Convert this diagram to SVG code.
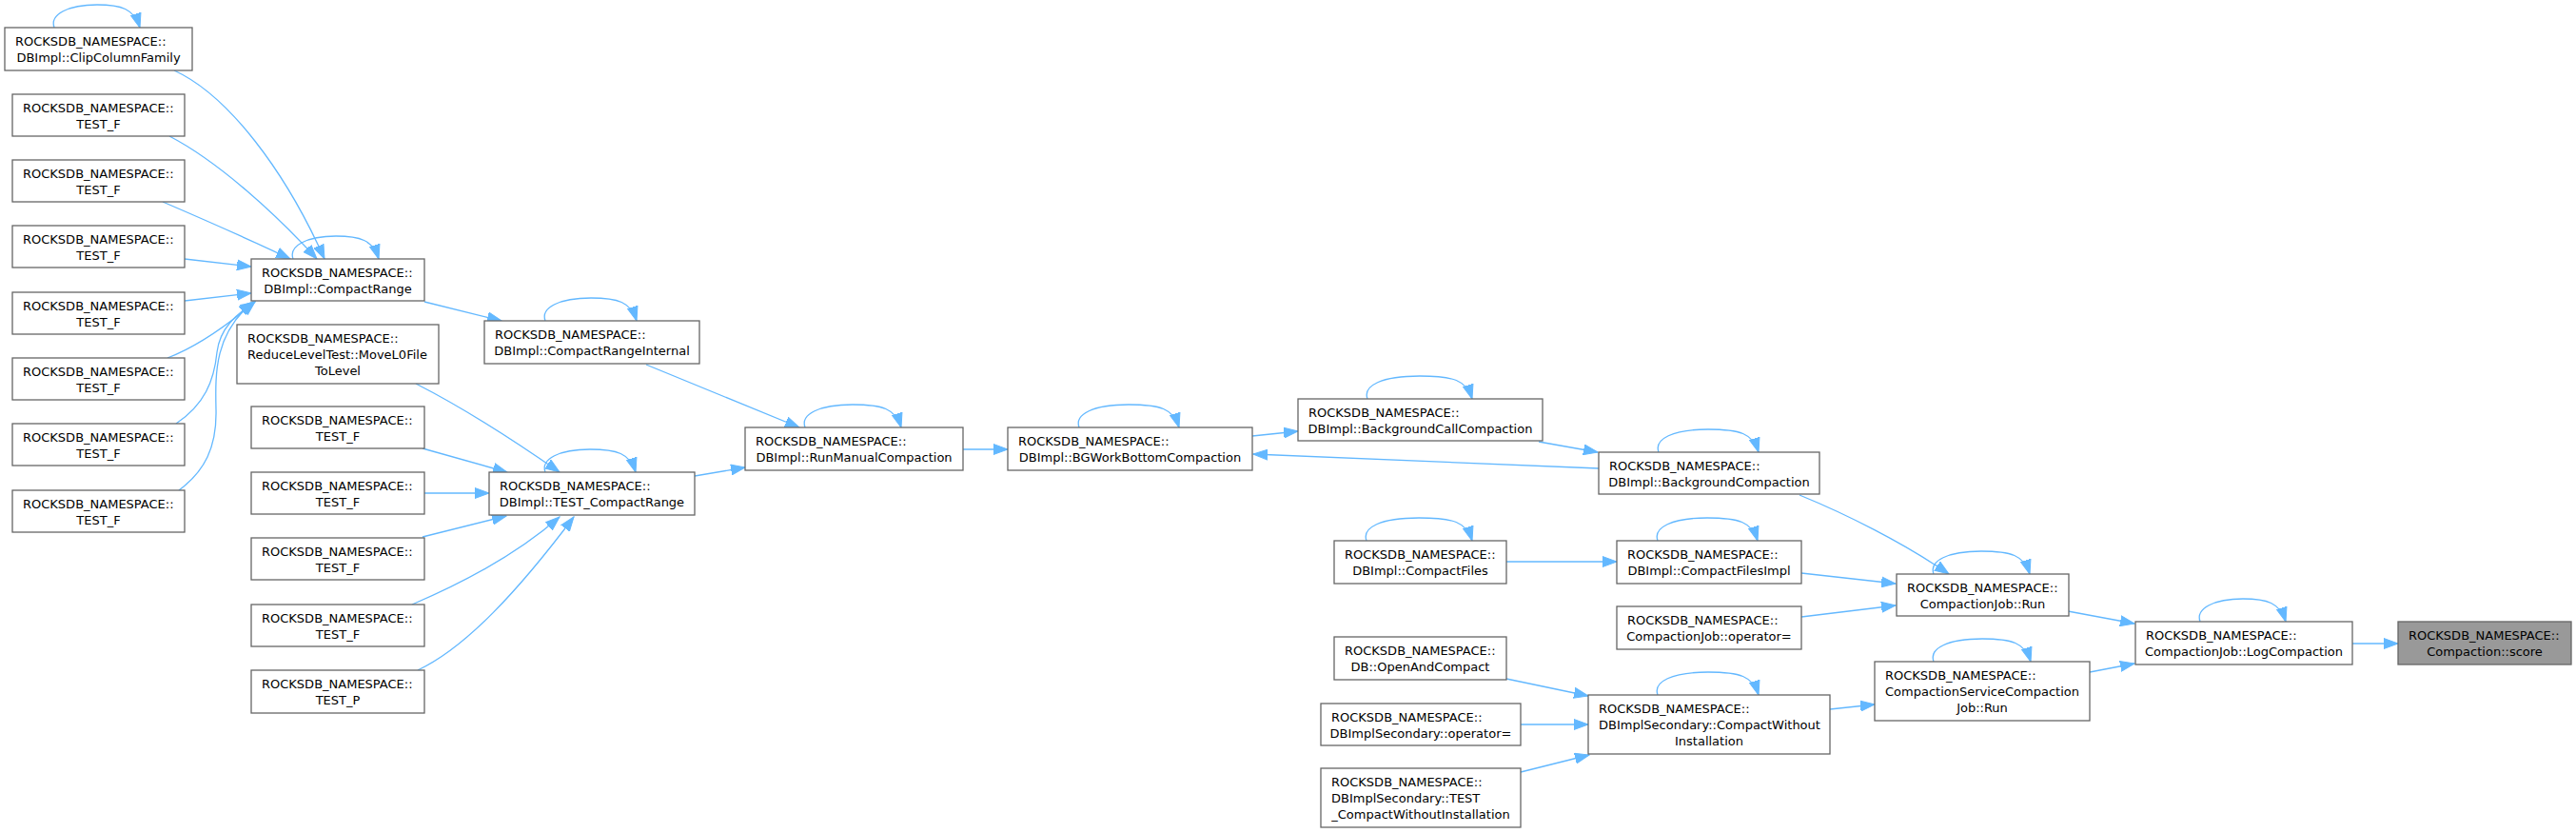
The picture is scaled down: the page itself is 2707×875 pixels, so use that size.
<svg xmlns="http://www.w3.org/2000/svg" width="2707" height="875" viewBox="0 0 2707 875">
<style>
.node rect{fill:#ffffff;stroke:#666666;stroke-width:1.3}
.node.hl rect{fill:#999999}
.node text{font-family:"DejaVu Sans","Liberation Sans",sans-serif;font-size:13px;fill:#000000}
.node text.m{text-anchor:middle}
.edges path{fill:none;stroke:#63b8ff;stroke-width:1.3;marker-end:url(#ah)}
</style>
<defs>
<marker id="ah" markerUnits="userSpaceOnUse" markerWidth="16" markerHeight="12" refX="15" refY="6" orient="auto">
<path d="M0,0.5 L15,6 L0,11.5 Z" fill="#63b8ff" stroke="#63b8ff" stroke-width="1"/>
</marker>
</defs>
<rect x="0" y="0" width="2707" height="875" fill="#ffffff"/>
<g class="edges" id="connectors">
<path d="M57,29 C52,15 72,5 102,5 C127,5 141,9 147,29"/>
<path d="M183,74 C240,100 300,180 341,272"/>
<path d="M178,143 C230,170 290,225 333,272"/>
<path d="M171,212 C220,233 265,253 305,272"/>
<path d="M194,272 L264,280"/>
<path d="M194,316 L264,308"/>
<path d="M176,376 C205,365 235,345 268,317"/>
<path d="M185,445 C215,425 225,400 228,370 C231,345 248,330 268,317"/>
<path d="M188,515 C215,495 228,470 227,430 C226,390 226,350 266,317"/>
<path d="M308,272 C303,258 323,248 353,248 C378,248 392,252 398,272"/>
<path d="M446,317 L527,337"/>
<path d="M573,337 C568,323 588,313 621,313 C649,313 663,317 669,337"/>
<path d="M679,383 L840,449"/>
<path d="M437,403 C490,430 545,466 588,496"/>
<path d="M444,471 L533,496"/>
<path d="M446,518 L514,518"/>
<path d="M444,564 L532,542"/>
<path d="M433,635 C480,615 540,585 588,543"/>
<path d="M439,704 C490,680 545,620 603,543"/>
<path d="M573,496 C568,482 588,472 620,472 C648,472 662,476 668,496"/>
<path d="M730,500 L783,491"/>
<path d="M846,449 C841,435 861,425 896,425 C927,425 941,429 947,449"/>
<path d="M1012,472 L1059,472"/>
<path d="M1134,449 C1129,435 1149,425 1186,425 C1219,425 1233,429 1239,449"/>
<path d="M1316,458 L1364,453"/>
<path d="M1680,492 L1317,477"/>
<path d="M1437,419 C1432,405 1452,395 1492,395 C1527,395 1541,399 1547,419"/>
<path d="M1617,464 L1679,475"/>
<path d="M1743,475 C1738,461 1758,451 1795,451 C1828,451 1842,455 1848,475"/>
<path d="M1891,520 C1940,540 2000,570 2048,603"/>
<path d="M2032,603 C2027,589 2047,579 2082,579 C2113,579 2127,583 2133,603"/>
<path d="M1893,602 L1992,613"/>
<path d="M1893,648 L1992,636"/>
<path d="M1583,590 L1699,590"/>
<path d="M1436,568 C1431,554 1451,544 1491,544 C1527,544 1541,548 1547,568"/>
<path d="M1742,568 C1737,554 1757,544 1794,544 C1827,544 1841,548 1847,568"/>
<path d="M1583,713 L1669,731"/>
<path d="M1598,761 L1669,761"/>
<path d="M1598,811 L1670,793"/>
<path d="M1742,730 C1737,716 1757,706 1795,706 C1828,706 1842,710 1848,730"/>
<path d="M1923,745 L1970,740"/>
<path d="M2032,695 C2027,681 2047,671 2083,671 C2114,671 2128,675 2134,695"/>
<path d="M2173,642 L2243,655"/>
<path d="M2196,706 L2243,697"/>
<path d="M2312,653 C2307,639 2327,629 2357,629 C2382,629 2396,633 2402,653"/>
<path d="M2472,676 L2520,676"/>
</g>
<g class="node" id="n_clip"><rect x="5" y="29" width="197" height="45"/><text x="16" y="47.5">ROCKSDB_NAMESPACE::</text><text class="m" x="103.5" y="64.5">DBImpl::ClipColumnFamily</text></g>
<g class="node" id="n_t0a"><rect x="13" y="99" width="181" height="44"/><text x="24" y="117.5">ROCKSDB_NAMESPACE::</text><text class="m" x="103.5" y="134.5">TEST_F</text></g>
<g class="node" id="n_t0b"><rect x="13" y="168" width="181" height="44"/><text x="24" y="186.5">ROCKSDB_NAMESPACE::</text><text class="m" x="103.5" y="203.5">TEST_F</text></g>
<g class="node" id="n_t0c"><rect x="13" y="237" width="181" height="44"/><text x="24" y="255.5">ROCKSDB_NAMESPACE::</text><text class="m" x="103.5" y="272.5">TEST_F</text></g>
<g class="node" id="n_t0d"><rect x="13" y="307" width="181" height="44"/><text x="24" y="325.5">ROCKSDB_NAMESPACE::</text><text class="m" x="103.5" y="342.5">TEST_F</text></g>
<g class="node" id="n_t0e"><rect x="13" y="376" width="181" height="44"/><text x="24" y="394.5">ROCKSDB_NAMESPACE::</text><text class="m" x="103.5" y="411.5">TEST_F</text></g>
<g class="node" id="n_t0f"><rect x="13" y="445" width="181" height="44"/><text x="24" y="463.5">ROCKSDB_NAMESPACE::</text><text class="m" x="103.5" y="480.5">TEST_F</text></g>
<g class="node" id="n_t0g"><rect x="13" y="515" width="181" height="44"/><text x="24" y="533.5">ROCKSDB_NAMESPACE::</text><text class="m" x="103.5" y="550.5">TEST_F</text></g>
<g class="node" id="n_compactrange"><rect x="264" y="272" width="182" height="44"/><text x="275" y="290.5">ROCKSDB_NAMESPACE::</text><text class="m" x="355" y="307.5">DBImpl::CompactRange</text></g>
<g class="node" id="n_reducelevel"><rect x="249" y="341" width="212" height="62"/><text x="260" y="359.5">ROCKSDB_NAMESPACE::</text><text x="260" y="376.5">ReduceLevelTest::MoveL0File</text><text class="m" x="355" y="393.5">ToLevel</text></g>
<g class="node" id="n_t1a"><rect x="264" y="427" width="182" height="44"/><text x="275" y="445.5">ROCKSDB_NAMESPACE::</text><text class="m" x="355" y="462.5">TEST_F</text></g>
<g class="node" id="n_t1b"><rect x="264" y="496" width="182" height="44"/><text x="275" y="514.5">ROCKSDB_NAMESPACE::</text><text class="m" x="355" y="531.5">TEST_F</text></g>
<g class="node" id="n_t1c"><rect x="264" y="565" width="182" height="44"/><text x="275" y="583.5">ROCKSDB_NAMESPACE::</text><text class="m" x="355" y="600.5">TEST_F</text></g>
<g class="node" id="n_t1d"><rect x="264" y="635" width="182" height="44"/><text x="275" y="653.5">ROCKSDB_NAMESPACE::</text><text class="m" x="355" y="670.5">TEST_F</text></g>
<g class="node" id="n_t1p"><rect x="264" y="704" width="182" height="45"/><text x="275" y="722.5">ROCKSDB_NAMESPACE::</text><text class="m" x="355" y="739.5">TEST_P</text></g>
<g class="node" id="n_cri"><rect x="509" y="337" width="226" height="45"/><text x="520" y="355.5">ROCKSDB_NAMESPACE::</text><text class="m" x="622" y="372.5">DBImpl::CompactRangeInternal</text></g>
<g class="node" id="n_tcr"><rect x="514" y="496" width="216" height="45"/><text x="525" y="514.5">ROCKSDB_NAMESPACE::</text><text class="m" x="622" y="531.5">DBImpl::TEST_CompactRange</text></g>
<g class="node" id="n_rmc"><rect x="783" y="449" width="229" height="45"/><text x="794" y="467.5">ROCKSDB_NAMESPACE::</text><text class="m" x="897.5" y="484.5">DBImpl::RunManualCompaction</text></g>
<g class="node" id="n_bgwork"><rect x="1059" y="449" width="257" height="45"/><text x="1070" y="467.5">ROCKSDB_NAMESPACE::</text><text class="m" x="1187.5" y="484.5">DBImpl::BGWorkBottomCompaction</text></g>
<g class="node" id="n_bcc"><rect x="1364" y="419" width="257" height="44"/><text x="1375" y="437.5">ROCKSDB_NAMESPACE::</text><text class="m" x="1492.5" y="454.5">DBImpl::BackgroundCallCompaction</text></g>
<g class="node" id="n_bc"><rect x="1680" y="475" width="232" height="44"/><text x="1691" y="493.5">ROCKSDB_NAMESPACE::</text><text class="m" x="1796" y="510.5">DBImpl::BackgroundCompaction</text></g>
<g class="node" id="n_cf"><rect x="1402" y="568" width="181" height="45"/><text x="1413" y="586.5">ROCKSDB_NAMESPACE::</text><text class="m" x="1492.5" y="603.5">DBImpl::CompactFiles</text></g>
<g class="node" id="n_oac"><rect x="1402" y="669" width="181" height="45"/><text x="1413" y="687.5">ROCKSDB_NAMESPACE::</text><text class="m" x="1492.5" y="704.5">DB::OpenAndCompact</text></g>
<g class="node" id="n_dsop"><rect x="1388" y="739" width="210" height="44"/><text x="1399" y="757.5">ROCKSDB_NAMESPACE::</text><text class="m" x="1493" y="774.5">DBImplSecondary::operator=</text></g>
<g class="node" id="n_tcwi"><rect x="1388" y="807" width="210" height="62"/><text x="1399" y="825.5">ROCKSDB_NAMESPACE::</text><text x="1399" y="842.5">DBImplSecondary::TEST</text><text class="m" x="1493" y="859.5">_CompactWithoutInstallation</text></g>
<g class="node" id="n_cfi"><rect x="1699" y="568" width="194" height="45"/><text x="1710" y="586.5">ROCKSDB_NAMESPACE::</text><text class="m" x="1796" y="603.5">DBImpl::CompactFilesImpl</text></g>
<g class="node" id="n_cjop"><rect x="1699" y="637" width="194" height="45"/><text x="1710" y="655.5">ROCKSDB_NAMESPACE::</text><text class="m" x="1796" y="672.5">CompactionJob::operator=</text></g>
<g class="node" id="n_cwi"><rect x="1669" y="730" width="254" height="62"/><text x="1680" y="748.5">ROCKSDB_NAMESPACE::</text><text x="1680" y="765.5">DBImplSecondary::CompactWithout</text><text class="m" x="1796" y="782.5">Installation</text></g>
<g class="node" id="n_run"><rect x="1993" y="603" width="181" height="44"/><text x="2004" y="621.5">ROCKSDB_NAMESPACE::</text><text class="m" x="2083.5" y="638.5">CompactionJob::Run</text></g>
<g class="node" id="n_cscj"><rect x="1970" y="695" width="226" height="62"/><text x="1981" y="713.5">ROCKSDB_NAMESPACE::</text><text x="1981" y="730.5">CompactionServiceCompaction</text><text class="m" x="2083" y="747.5">Job::Run</text></g>
<g class="node" id="n_lc"><rect x="2244" y="653" width="228" height="45"/><text x="2255" y="671.5">ROCKSDB_NAMESPACE::</text><text class="m" x="2358" y="688.5">CompactionJob::LogCompaction</text></g>
<g class="node hl" id="n_score"><rect x="2520" y="653" width="182" height="45"/><text x="2531" y="671.5">ROCKSDB_NAMESPACE::</text><text class="m" x="2611" y="688.5">Compaction::score</text></g>
</svg>
